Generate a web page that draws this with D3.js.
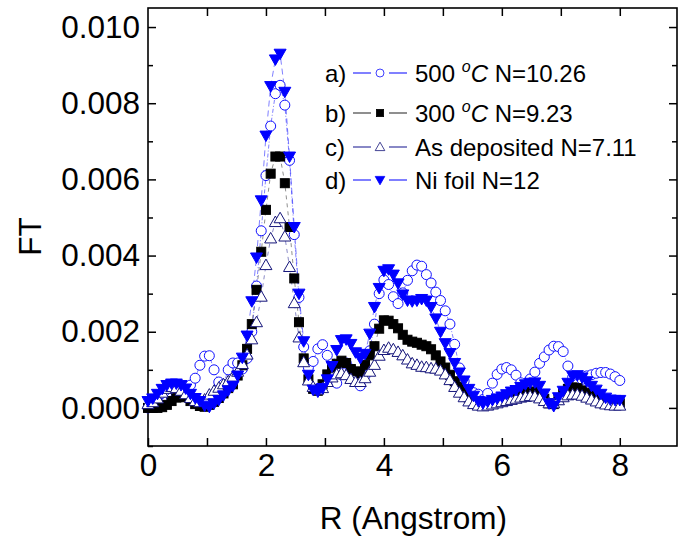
<!DOCTYPE html>
<html>
<head>
<meta charset="utf-8">
<script src="https://d3js.org/d3.v7.min.js"></script>
<style>
body { margin: 0; background: #fff; }
svg text { font-family: "Liberation Sans", Arial, Helvetica, sans-serif; fill: #000; }
</style>
</head>
<body>
<script>
// R grid (Angstrom) shared by all four curves
var R = [0.00, 0.08, 0.16, 0.24, 0.32, 0.40, 0.48, 0.56, 0.64, 0.72,
         0.80, 0.88, 0.96, 1.04, 1.12, 1.20, 1.28, 1.36, 1.44, 1.52,
         1.60, 1.68, 1.76, 1.84, 1.92, 2.00, 2.08, 2.16, 2.24, 2.32,
         2.40, 2.48, 2.56, 2.64, 2.72, 2.80, 2.88, 2.96, 3.04, 3.12,
         3.20, 3.28, 3.36, 3.44, 3.52, 3.60, 3.68, 3.76, 3.84, 3.92,
         4.00, 4.08, 4.16, 4.24, 4.32, 4.40, 4.48, 4.56, 4.64, 4.72,
         4.80, 4.88, 4.96, 5.04, 5.12, 5.20, 5.28, 5.36, 5.44, 5.52,
         5.60, 5.68, 5.76, 5.84, 5.92, 6.00, 6.08, 6.16, 6.24, 6.32,
         6.40, 6.48, 6.56, 6.64, 6.72, 6.80, 6.88, 6.96, 7.04, 7.12,
         7.20, 7.28, 7.36, 7.44, 7.52, 7.60, 7.68, 7.76, 7.84, 7.92, 8.00];

// FT magnitudes, in units of 1e-3
var ft500 = [0.00, 0.08, 0.09, 0.12, 0.17, 0.26, 0.33, 0.42, 0.50, 0.60,
             0.78, 1.12, 1.36, 1.37, 1.00, 0.68, 0.62, 1.00, 1.18, 1.18,
             1.02, 1.30, 2.00, 3.20, 4.65, 6.10, 7.40, 8.25, 8.47, 7.95,
             6.50, 4.55, 2.90, 1.60, 1.06, 1.22, 1.55, 1.66, 1.38, 0.85,
             0.65, 1.15, 1.18, 1.02, 0.85, 0.58, 0.85, 1.50, 2.20, 3.00,
             3.36, 3.24, 2.92, 2.74, 3.02, 3.35, 3.60, 3.75, 3.72, 3.50,
             3.28, 3.04, 2.82, 2.55, 2.20, 1.67, 1.05, 0.70, 0.48, 0.40,
             0.36, 0.22, 0.38, 0.65, 0.88, 1.02, 1.06, 1.00, 0.86, 0.66,
             0.56, 0.76, 0.94, 1.17, 1.34, 1.52, 1.62, 1.61, 1.48, 1.10,
             0.80, 0.62, 0.75, 0.84, 0.87, 0.91, 0.93, 0.93, 0.89, 0.82, 0.72];

var ft300 = [0.00, 0.00, 0.00, 0.02, 0.08, 0.18, 0.27, 0.30, 0.28, 0.18,
             0.10, 0.05, 0.03, 0.08, 0.16, 0.26, 0.38, 0.52, 0.62, 0.85,
             1.12, 1.55, 2.20, 3.10, 4.10, 5.20, 6.15, 6.60, 6.60, 5.90,
             4.75, 3.40, 2.25, 1.30, 0.75, 0.50, 0.45, 0.62, 0.88, 1.06,
             1.16, 1.24, 1.18, 1.02, 0.96, 0.90, 1.13, 1.38, 1.62, 2.08,
             2.30, 2.29, 2.20, 2.09, 1.92, 1.79, 1.74, 1.71, 1.66, 1.62,
             1.54, 1.38, 1.22, 1.06, 0.87, 0.70, 0.56, 0.40, 0.27, 0.16,
             0.10, 0.08, 0.10, 0.14, 0.18, 0.22, 0.27, 0.31, 0.35, 0.38,
             0.41, 0.43, 0.42, 0.35, 0.24, 0.12, 0.10, 0.22, 0.38, 0.50,
             0.54, 0.52, 0.46, 0.40, 0.33, 0.26, 0.20, 0.16, 0.13, 0.12, 0.12];

var ftAsDep = [0.10, 0.15, 0.25, 0.40, 0.50, 0.55, 0.52, 0.45, 0.36, 0.26,
               0.18, 0.15, 0.22, 0.35, 0.45, 0.53, 0.62, 0.70, 0.82, 0.95,
               1.15, 1.40, 1.80, 2.25, 2.92, 3.75, 4.45, 4.88, 4.98, 4.50,
               3.70, 2.75, 1.85, 1.20, 0.72, 0.55, 0.48, 0.52, 0.68, 0.80,
               0.88, 0.91, 0.86, 0.76, 0.68, 0.68, 0.78, 0.95, 1.13, 1.37,
               1.52, 1.58, 1.54, 1.47, 1.38, 1.27, 1.17, 1.13, 1.08, 1.07,
               1.04, 1.03, 0.98, 0.88, 0.73, 0.55, 0.40, 0.28, 0.17, 0.10,
               0.06, 0.04, 0.06, 0.09, 0.12, 0.15, 0.18, 0.21, 0.24, 0.27,
               0.29, 0.31, 0.30, 0.25, 0.18, 0.12, 0.12, 0.20, 0.28, 0.33,
               0.35, 0.35, 0.32, 0.27, 0.22, 0.17, 0.12, 0.09, 0.07, 0.06, 0.06];

var ftNiFoil = [0.18, 0.25, 0.37, 0.50, 0.60, 0.64, 0.64, 0.60, 0.51, 0.37,
                0.26, 0.18, 0.06, 0.03, 0.12, 0.21, 0.33, 0.46, 0.58, 0.85,
                1.32, 1.90, 2.80, 3.95, 5.45, 7.15, 8.45, 9.15, 9.30, 8.30,
                6.60, 4.75, 3.00, 1.75, 0.87, 0.48, 0.43, 0.52, 0.75, 1.10,
                1.52, 1.78, 1.80, 1.68, 1.46, 1.31, 1.42, 1.95, 2.65, 3.15,
                3.60, 3.64, 3.50, 3.27, 2.98, 2.82, 2.80, 2.82, 2.86, 2.82,
                2.65, 2.35, 2.00, 1.70, 1.44, 1.18, 0.93, 0.72, 0.50, 0.32,
                0.18, 0.12, 0.17, 0.21, 0.25, 0.30, 0.36, 0.43, 0.47, 0.55,
                0.62, 0.66, 0.67, 0.58, 0.38, 0.12, 0.05, 0.28, 0.45, 0.66,
                0.84, 0.86, 0.80, 0.70, 0.58, 0.48, 0.37, 0.27, 0.22, 0.21, 0.21];

var yTicks = [0, 2, 4, 6, 8, 10];
var xTicks = [0, 2, 4, 6, 8];

var series = [
    {key: "a)", label: "500", extra: " N=10.26", celsius: true, values: ft500,
     symbol: "circle", stroke: "#1010ff", fill: "#fff", line: "#2a2aff", dash: "4,2,1,2"},
    {key: "b)", label: "300", extra: " N=9.23", celsius: true, values: ft300,
     symbol: "square", stroke: "#000", fill: "#000", line: "#444", dash: "4,4"},
    {key: "c)", label: "As deposited N=7.11", celsius: false, values: ftAsDep,
     symbol: "triangle", stroke: "#15157a", fill: "#fff", line: "#3a3aa0", dash: "4,4"},
    {key: "d)", label: "Ni foil N=12", celsius: false, values: ftNiFoil,
     symbol: "triangleDown", stroke: "#0000ff", fill: "#0000ff", line: "#2a2aff", dash: "6,4"}
];

var width = 678, height = 540;
var margin = {top: 8, right: 1, bottom: 94, left: 148};
var plotW = width - margin.left - margin.right;
var plotH = height - margin.top - margin.bottom;

var svg = d3.select("body").append("svg")
    .attr("width", width)
    .attr("height", height);

var x = d3.scaleLinear().domain([0, 8.97]).range([0, plotW]);
var y = d3.scaleLinear().domain([-1, 10.5]).range([plotH, 0]);

var g = svg.append("g")
    .attr("transform", "translate(" + margin.left + "," + margin.top + ")");

// axes with inward ticks
var fmtY = function(d) { return (d / 1000).toFixed(3); };

g.append("g").attr("class", "axis")
    .attr("transform", "translate(0," + plotH + ")")
    .call(d3.axisBottom(x).tickValues(xTicks).tickSize(-8).tickPadding(8));
g.append("g").attr("class", "axis")
    .call(d3.axisBottom(x).tickValues([1, 3, 5, 7]).tickSize(-8).tickFormat(""))
    .attr("transform", "translate(0," + plotH + ")");
g.append("g").attr("class", "axis")
    .call(d3.axisTop(x).tickValues([1, 2, 3, 4, 5, 6, 7, 8]).tickSize(-8).tickFormat(""));

g.append("g").attr("class", "axis")
    .call(d3.axisLeft(y).tickValues(yTicks).tickSize(-8).tickPadding(8).tickFormat(fmtY));
g.append("g").attr("class", "axis")
    .call(d3.axisLeft(y).tickValues([-1, 1, 3, 5, 7, 9]).tickSize(-5).tickFormat(""));
g.append("g").attr("class", "axis")
    .attr("transform", "translate(" + plotW + ",0)")
    .call(d3.axisRight(y).tickValues(yTicks).tickSize(-8).tickFormat(""));
g.append("g").attr("class", "axis")
    .attr("transform", "translate(" + plotW + ",0)")
    .call(d3.axisRight(y).tickValues([1, 3, 5, 7, 9]).tickSize(-5).tickFormat(""));

g.selectAll(".axis path").remove();
g.selectAll(".axis line").attr("stroke", "#000").attr("stroke-width", 1.5);
g.selectAll(".axis text")
    .style("font-size", "31.5px")
    .attr("fill", "#000");

// frame
g.append("rect")
    .attr("x", 0).attr("y", 0)
    .attr("width", plotW).attr("height", plotH)
    .attr("fill", "none")
    .attr("stroke", "#000")
    .attr("stroke-width", 1.6);

// marker shapes
function marker(sel, s) {
    if (s.symbol === "circle") {
        sel.append("circle").attr("r", 5);
    } else if (s.symbol === "square") {
        sel.append("rect").attr("x", -4.5).attr("y", -4.5).attr("width", 9).attr("height", 9);
    } else if (s.symbol === "triangle") {
        sel.append("path").attr("d", "M0,-6L6,4.5L-6,4.5Z");
    } else {
        sel.append("path").attr("d", "M0,6L6,-4.5L-6,-4.5Z");
    }
    sel.selectAll("*")
        .attr("fill", s.fill)
        .attr("stroke", s.stroke)
        .attr("stroke-width", 1);
}

var line = d3.line()
    .x(function(d) { return x(d[0]); })
    .y(function(d) { return y(d[1]); });

series.forEach(function(s) {
    var pts = R.map(function(r, i) { return [r, s.values[i]]; });
    g.append("path")
        .attr("d", line(pts))
        .attr("fill", "none")
        .attr("stroke", s.line)
        .attr("stroke-width", 0.6)
        .attr("stroke-dasharray", s.dash);
});

series.forEach(function(s) {
    var pts = R.map(function(r, i) { return [r, s.values[i]]; });
    g.append("g").selectAll("g")
        .data(pts)
        .enter().append("g")
        .attr("transform", function(d) { return "translate(" + x(d[0]) + "," + y(d[1]) + ")"; })
        .each(function() { marker(d3.select(this), s); });
});

// legend
var legendY = [73, 113, 147, 180];
var legend = svg.selectAll(".legend")
    .data(series)
    .enter().append("g")
    .attr("class", "legend")
    .attr("transform", function(d, i) { return "translate(0," + legendY[i] + ")"; });

legend.append("text")
    .attr("x", 325).attr("y", 8.5)
    .style("font-size", "24px")
    .text(function(d) { return d.key; });

legend.append("line")
    .attr("x1", 353).attr("x2", 371).attr("y1", 0).attr("y2", 0)
    .attr("stroke", function(d) { return d.line; }).attr("stroke-width", 1.2);
legend.append("line")
    .attr("x1", 389).attr("x2", 407).attr("y1", 0).attr("y2", 0)
    .attr("stroke", function(d) { return d.line; }).attr("stroke-width", 1.2);

legend.each(function(d) {
    var m = d3.select(this).append("g").attr("transform", "translate(380,0) scale(0.8)");
    marker(m, d);
});

legend.each(function(d) {
    var t = d3.select(this).append("text")
        .attr("x", 415).attr("y", 8.5)
        .style("font-size", "24px");
    if (d.celsius) {
        t.append("tspan").text(d.label + " ");
        t.append("tspan").attr("dy", -10).style("font-size", "16px").style("font-style", "italic").text("o");
        t.append("tspan").attr("dy", 10).style("font-style", "italic").text("C");
        t.append("tspan").text(d.extra);
    } else {
        t.text(d.label);
    }
});

// axis titles
svg.append("text")
    .attr("x", margin.left + x(4.5))
    .attr("y", 529)
    .attr("text-anchor", "middle")
    .style("font-size", "31.5px")
    .text("R (Angstrom)");

svg.append("text")
    .attr("transform", "translate(41," + (margin.top + y(4.5)) + ") rotate(-90)")
    .attr("text-anchor", "middle")
    .style("font-size", "31.5px")
    .text("FT");
</script>
</body>
</html>
